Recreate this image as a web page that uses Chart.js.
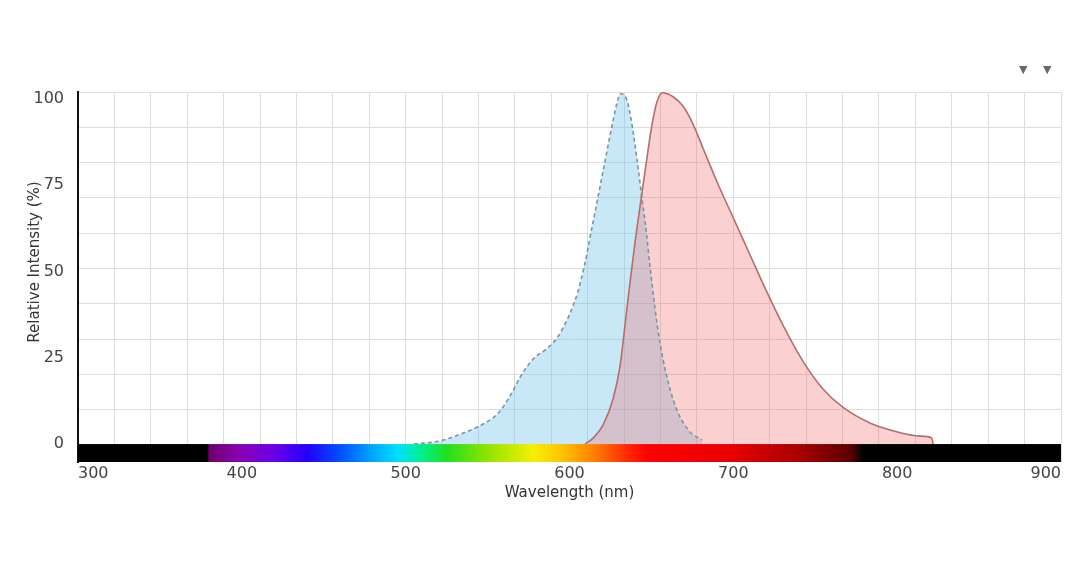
<!DOCTYPE html>
<html>
<head>
<meta charset="utf-8">
<script src="https://cdn.jsdelivr.net/npm/chart.js@4.4.1/dist/chart.umd.min.js"></script>
<style>
  html, body { margin: 0; padding: 0; background: #ffffff; }
  #wrap { position: relative; width: 1080px; height: 573px; }
  #c { display: block; }
  .tri { position: absolute; top: 63px; font: 11px "DejaVu Sans", sans-serif; color: #6a6a6a; }
</style>
</head>
<body>
<div id="wrap">
  <canvas id="c" width="1080" height="573"></canvas>
  <span class="tri" style="left:1019px">▼</span>
  <span class="tri" style="left:1043px">▼</span>
</div>
<script>
// ---- data ----
const wavelengthTicks = [300, 400, 500, 600, 700, 800, 900];
const intensityTicks = [0, 25, 50, 75, 100];

// excitation (blue, dashed)
const exWl  = [505, 510, 521, 533, 545, 553, 558, 565, 570, 578, 586, 592, 600, 605, 609, 613, 617, 621, 625, 629, 631, 635, 638, 641, 644, 647, 649, 652, 655, 659, 665, 673, 681];
const exVal = [0, 0.2, 0.9, 2.8, 5.2, 7.5, 9.8, 15, 19.5, 24.7, 27.6, 30.5, 37.5, 44, 51.5, 61, 70.6, 80.3, 90, 98.8, 101.5, 99.7, 93, 83.2, 72, 61, 52, 40, 30, 20.3, 10.5, 3.8, 1.2];

// emission (red, solid)
const emWl  = [609.5, 614.6, 620.7, 626.8, 631, 634, 637, 640, 644, 647, 650, 653, 656.5, 663, 669.5, 675.6, 681.7, 690, 700, 710, 720, 731, 743, 755, 767, 783, 798, 814, 821, 822];
const emVal = [0, 1.8, 5.7, 13.4, 23, 35, 47, 58.5, 72, 82, 91.5, 98.5, 101.8, 100.7, 97.8, 92.5, 85.5, 76, 65.5, 55, 44.5, 33.8, 23.6, 15.8, 10.6, 6.2, 3.8, 2.3, 1.8, 0];

// visible-spectrum colour bar
const spectrumWl     = [300, 379, 380, 400, 420, 440, 460, 480, 495, 510, 525, 550, 578, 595, 615, 635, 648, 700, 740, 772, 779, 900];
const spectrumColors = ['#000000', '#000000', '#6e006e', '#8a00b4', '#6a00e8', '#2200ff', '#0050ff', '#00a8ff', '#00e0ff', '#00f08a', '#20e020', '#90e400', '#f4f000', '#ffc400', '#ff8000', '#ff2a00', '#ff0000', '#e80000', '#a80000', '#5a0000', '#000000', '#000000'];

const GRID_COLS = 27;
const GRID_ROWS = 10;

const toXY = (xs, ys) => xs.map((x, i) => ({ x: x, y: ys[i] }));
const FONT = '"DejaVu Sans", "Noto Sans", sans-serif';

const spectrumPlugin = {
  id: 'spectrumBar',
  afterDatasetsDraw(chart) {
    const ctx = chart.ctx;
    const xs = chart.scales.x, ys = chart.scales.y;
    const x0 = xs.getPixelForValue(spectrumWl[0]);
    const x1 = xs.getPixelForValue(spectrumWl[spectrumWl.length - 1]);
    const yTop = ys.getPixelForValue(0);
    const yBot = ys.getPixelForValue(ys.min);
    const g = ctx.createLinearGradient(x0, 0, x1, 0);
    spectrumWl.forEach((w, i) => {
      const p = (xs.getPixelForValue(w) - x0) / (x1 - x0);
      g.addColorStop(Math.min(1, Math.max(0, p)), spectrumColors[i]);
    });
    ctx.save();
    ctx.fillStyle = g;
    ctx.fillRect(x0, yTop, x1 - x0, yBot - yTop);
    ctx.restore();
  }
};

const yTitlePlugin = {
  id: 'yTitle',
  afterDraw(chart) {
    const ctx = chart.ctx;
    ctx.save();
    ctx.translate(35, 262);
    ctx.rotate(-Math.PI / 2);
    ctx.font = '15px ' + FONT;
    ctx.fillStyle = '#333333';
    ctx.textAlign = 'center';
    ctx.textBaseline = 'middle';
    ctx.fillText('Relative Intensity (%)', 0, 0);
    ctx.restore();
  }
};

new Chart(document.getElementById('c'), {
  type: 'line',
  data: {
    datasets: [
      {
        label: 'Excitation',
        data: toXY(exWl, exVal),
        borderColor: '#7596a8',
        borderWidth: 1.6,
        borderDash: [4, 3],
        backgroundColor: 'rgba(110,195,235,0.38)',
        fill: 'origin',
        pointRadius: 0,
        cubicInterpolationMode: 'monotone',
        order: 1
      },
      {
        label: 'Emission',
        data: toXY(emWl, emVal),
        borderColor: '#b86c6c',
        borderWidth: 1.6,
        backgroundColor: 'rgba(240,110,110,0.32)',
        fill: 'origin',
        pointRadius: 0,
        cubicInterpolationMode: 'monotone',
        order: 0
      }
    ]
  },
  options: {
    responsive: false,
    animation: false,
    events: [],
    layout: { padding: { left: 0, top: 92, right: 19, bottom: 71 } },
    plugins: {
      legend: { display: false },
      tooltip: { enabled: false },
      filler: { drawTime: 'beforeDatasetsDraw' }
    },
    scales: {
      x: {
        type: 'linear',
        position: 'bottom',
        min: wavelengthTicks[0],
        max: wavelengthTicks[wavelengthTicks.length - 1],
        grid: { display: false },
        border: { display: false },
        afterBuildTicks: s => { s.ticks = wavelengthTicks.map(v => ({ value: v })); },
        ticks: { align: 'inner', maxRotation: 0, padding: -6, color: '#444444', font: { family: FONT, size: 16 } },
        title: { display: true, text: 'Wavelength (nm)', color: '#333333', padding: 0, font: { family: FONT, size: 15 } },
        afterFit: s => { s.height = 40; }
      },
      y: {
        type: 'linear',
        position: 'left',
        min: -5.2,
        max: 102,
        grid: { display: false },
        border: { display: true, color: '#111111', width: 2 },
        afterBuildTicks: s => { s.ticks = intensityTicks.map(v => ({ value: v })); },
        ticks: { padding: 6, color: '#444444', font: { family: FONT, size: 16 } },
        afterFit: s => { s.width = 78; }
      },
      xg: {
        type: 'linear',
        position: 'top',
        min: 0,
        max: GRID_COLS,
        grid: { color: '#dddddd', lineWidth: 1, drawTicks: false },
        border: { display: false },
        ticks: { display: false },
        afterBuildTicks: s => { s.ticks = Array.from({ length: GRID_COLS + 1 }, (_, i) => ({ value: i })); },
        afterFit: s => { s.height = 0; }
      },
      yg: {
        type: 'linear',
        position: 'right',
        min: -0.48,
        max: GRID_ROWS,
        grid: { color: '#dddddd', lineWidth: 1, drawTicks: false },
        border: { display: false },
        ticks: { display: false },
        afterBuildTicks: s => { s.ticks = Array.from({ length: GRID_ROWS + 1 }, (_, i) => ({ value: i })); },
        afterFit: s => { s.width = 0; }
      }
    }
  },
  plugins: [spectrumPlugin, yTitlePlugin]
});
</script>
</body>
</html>
